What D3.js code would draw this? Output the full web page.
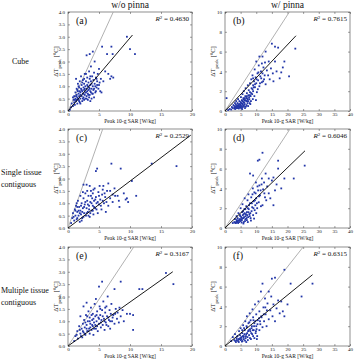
<!DOCTYPE html>
<html>
<head>
<meta charset="utf-8">
<title>SAR vs temperature rise</title>
<script src="https://d3js.org/d3.v7.min.js"></script>
<style>
  body { margin: 0; background: #fff; }
  text { font-family: "Liberation Serif", "DejaVu Serif", serif; fill: #111; }
</style>
</head>
<body>
<svg width="356" height="361"></svg>
<script>
// ---- data ----
const colTitles = ["w/o pinna", "w/ pinna"];
const rowLabels = [["Cube"], ["Single tissue", "contiguous"], ["Multiple tissue", "contiguous"]];
const panelTags = ["(a)", "(b)", "(c)", "(d)", "(e)", "(f)"];
const r2Values = ["0.4630", "0.7615", "0.2529", "0.6046", "0.3167", "0.6315"];
const xTicksL = [0, 5, 10, 15, 20];
const yTicksL = [0, 0.5, 1, 1.5, 2, 2.5, 3, 3.5, 4];
const xTicksR = [0, 5, 10, 15, 20, 25, 30, 35, 40];
const yTicksR = [0, 2, 4, 6, 8, 10];
// end points of the lines through the origin (gray = reference, black = fit)
const grayEnd = [[7.3, 4], [20.6, 10], [5.6, 4], [20.8, 10], [10.6, 4], [25, 10]];
const blackEnd = [[10.4, 3.07], [22.7, 7.6], [19.8, 3.75], [25.6, 7.8], [16.9, 3.0], [28, 7.2]];

const ptsA = [[0.3,0.05],[0.5,0.15],[0.6,0.3],[0.8,0.2],[0.9,0.45],[1.0,0.35],[1.0,0.6],[1.1,0.25],[1.2,0.5],[1.2,0.75],
  [1.3,0.4],[1.3,1.3],[1.4,0.65],[1.4,0.9],[1.5,0.3],[1.5,0.55],[1.6,0.8],[1.6,1.1],[1.7,0.45],[1.7,0.7],
  [1.8,0.6],[1.8,0.95],[1.9,0.35],[1.9,1.2],[2.0,0.5],[2.0,0.75],[2.1,0.9],[2.1,1.4],[2.2,0.6],[2.2,1.05],
  [2.3,0.4],[2.3,0.8],[2.4,0.7],[2.4,1.25],[2.5,0.55],[2.5,0.95],[2.6,0.85],[2.6,1.1],[2.7,0.65],[2.7,1.5],
  [2.8,0.5],[2.8,1.0],[2.9,0.75],[2.9,1.2],[3.0,0.6],[3.0,0.9],[3.0,2.25],[3.1,1.05],[3.1,1.35],[3.2,0.7],
  [3.2,0.45],[3.3,0.85],[3.3,1.15],[3.4,0.95],[3.4,1.6],[3.5,0.65],[3.5,1.3],[3.5,2.3],[3.6,0.8],[3.6,1.05],
  [3.7,1.8],[3.7,1.2],[3.8,0.9],[3.8,0.5],[3.9,1.4],[3.9,0.7],[4.0,1.0],[4.0,2.4],[4.1,1.25],[4.1,0.85],
  [4.2,1.55],[4.3,2.0],[4.3,1.1],[4.4,0.75],[4.5,1.35],[4.6,0.95],[4.7,1.2],[4.8,1.5],[5.0,1.7],[5.0,1.05],
  [5.2,0.8],[5.4,0.75],[5.3,1.3],[5.5,2.6],[5.7,1.2],[6.0,1.6],[6.3,2.3],[6.5,1.5],[6.8,1.3],[7.0,2.6],
  [7.0,1.4],[7.2,2.3],[7.3,1.35],[9.5,3.0],[10.0,2.5],[10.8,2.3],[3.6,0.4],[4.2,0.55],[2.0,0.3],[1.5,0.85],
  [1.1,0.45],[1.3,0.6],[1.6,0.5],[1.8,0.4],[2.0,0.65],[2.2,0.85],[2.4,0.5],[2.5,0.7],[2.6,0.45],[2.7,0.9],
  [2.8,0.75],[3.0,0.5],[3.1,0.8],[3.2,1.0],[3.3,0.65],[3.4,0.55],[3.5,0.9],[3.7,0.75],[3.8,1.1],[4.0,0.7],
  [4.2,0.9],[4.4,1.0],[4.5,0.8],[4.7,1.05],[4.9,0.9],[2.3,1.15],[1.9,0.8],[1.4,0.45],[2.9,1.5],[3.6,1.4],
  [4.6,1.3],[5.1,1.15],[0.8,0.55],[1.7,1.0],[2.6,1.3]];

const ptsB = [[0.5,1.3],[1,0.1],[1.5,0.2],[2,0.15],[2.2,0.4],[2.5,0.3],[2.7,0.6],[3,0.25],[3,0.5],[3.2,0.8],
  [3.4,0.4],[3.5,0.65],[3.6,1.0],[3.8,0.3],[4,0.55],[4,0.8],[4.2,1.2],[4.3,0.45],[4.5,0.7],[4.6,1.0],
  [4.8,0.35],[5,0.6],[5,0.9],[5.1,1.4],[5.3,0.5],[5.4,1.1],[5.5,0.75],[5.6,1.7],[5.8,0.55],[5.9,1.3],
  [6,0.9],[6,2.0],[6.2,1.1],[6.3,0.7],[6.5,1.5],[6.6,2.3],[6.8,1.0],[7,1.3],[7,1.8],[7.2,0.8],
  [7.3,2.6],[7.5,1.6],[7.6,2.1],[7.8,1.2],[8,1.9],[8,2.8],[8.2,1.5],[8.4,3.2],[8.5,2.3],[8.7,1.7],
  [8.8,3.6],[9,2.6],[9,2.0],[9.3,3.0],[9.5,4.2],[9.6,2.4],[9.8,3.4],[10,2.8],[10,5.0],[10.2,1.9],
  [10.4,3.8],[10.6,3.1],[10.8,4.6],[11,2.5],[11,5.5],[11.3,3.5],[11.5,4.0],[11.8,2.9],[12,5.5],[12,3.8],
  [12.3,4.4],[12.5,3.2],[12.8,4.9],[13,6.0],[13,2.7],[13.4,4.1],[13.8,3.6],[14,5.0],[14.3,3.2],[14.7,4.3],
  [15,6.8],[15.3,3.8],[15.5,3.0],[16,5.0],[16,6.5],[16.5,4.0],[17,6.4],[17.5,3.3],[18,3.9],[18.5,4.4],
  [19,5.0],[22.5,6.3],[20.5,3.5],[3.3,0.2],[4.1,0.3],[4.7,0.5],[5.2,0.3],[5.7,0.4],[6.1,0.5],[6.4,0.3],
  [6.9,0.6],[7.4,0.5],[7.9,0.8],[8.3,1.0],[8.9,1.2],[9.4,1.5],[9.9,1.1],[6.7,0.45],[4.4,0.25],[5.5,0.2],
  [7.1,1.0],[8.1,0.7],[3.1,0.35],[3.6,0.5],[3.9,0.45],[4.2,0.6],[4.5,0.45],[4.9,0.7],[5.3,0.8],[5.6,1.0],
  [6.0,1.2],[6.3,1.3],[6.6,1.1],[7.0,1.5],[7.3,1.2],[7.7,1.4],[8.0,1.6],[8.4,1.8],[8.8,2.2],[9.2,2.4],
  [9.6,2.7],[10.1,3.2],[10.5,2.2],[11.2,2.8],[11.6,3.3],[12.2,3.0],[5.0,0.4],[5.7,0.7],[6.2,0.85],[6.8,1.3],
  [7.5,1.0],[4.6,0.35],[3.7,0.3],[9.0,3.3],[10.7,3.9],[11.8,4.8],[12.7,3.6]];

const ptsC = [[0.5,0.2],[0.7,0.4],[0.8,0.6],[1.0,0.3],[1.1,0.75],[1.2,0.5],[1.3,0.9],[1.4,0.35],[1.5,0.65],[1.6,1.1],
  [1.7,0.5],[1.8,0.85],[1.9,0.25],[2.0,0.7],[2.0,1.3],[2.1,0.55],[2.2,1.0],[2.3,0.4],[2.4,0.8],[2.5,1.2],
  [2.5,1.75],[2.6,0.6],[2.7,0.95],[2.8,1.4],[2.9,0.5],[3.0,0.8],[3.0,1.75],[3.1,1.1],[3.2,0.65],[3.3,1.3],
  [3.4,0.9],[3.5,1.7],[3.5,0.45],[3.6,1.05],[3.7,1.5],[3.8,0.7],[3.9,1.2],[4.0,0.9],[4.0,1.4],[4.1,0.55],
  [4.2,1.1],[4.3,1.6],[4.4,0.8],[4.5,2.3],[4.5,1.25],[4.6,1.0],[4.7,2.4],[4.8,0.6],[4.9,1.45],[5.0,0.95],
  [5.1,1.7],[5.2,1.15],[5.4,0.75],[5.5,1.35],[5.6,1.55],[5.8,1.0],[6.0,1.25],[6.1,0.65],[6.3,1.5],[6.5,1.8],
  [6.5,0.9],[6.8,1.2],[7.0,2.6],[7.2,1.05],[7.5,1.6],[7.6,1.3],[8.0,1.3],[8.5,2.4],[8.3,0.85],[9.0,1.4],
  [9.3,1.15],[9.5,1.2],[9.7,1.05],[10.3,1.9],[11.0,1.3],[13.5,2.6],[17.5,2.5],[1.5,0.4],[2.2,0.3],[3.3,0.5],
  [0.9,0.45],[1.2,0.7],[1.5,0.85],[1.7,0.7],[1.9,0.6],[2.1,0.9],[2.3,0.65],[2.5,0.45],[2.6,0.85],[2.8,1.05],
  [3.0,0.6],[3.2,0.95],[3.4,0.75],[3.6,0.6],[3.8,1.0],[4.0,0.7],[4.2,0.85],[4.4,1.15],[4.6,0.75],[4.8,1.05],
  [5.0,1.3],[5.3,0.9],[5.6,1.1],[5.9,1.4],[6.2,1.05],[2.4,1.45],[3.1,1.5],[3.7,1.3],[4.1,1.55],[1.4,1.0],
  [5.7,1.7],[6.8,1.5],[7.2,1.35],[8.2,1.1]];

const ptsD = [[2.5,0.5],[3,0.6],[3.2,0.9],[3.5,0.5],[3.7,1.2],[4,0.7],[4,1.0],[4.3,1.5],[4.5,0.6],[4.6,0.9],
  [4.8,1.3],[5,0.7],[5,2.0],[5.2,1.1],[5.4,0.8],[5.5,1.6],[5.6,2.4],[5.8,1.0],[6,0.6],[6,1.4],
  [6.2,1.9],[6.3,3.0],[6.5,0.9],[6.6,1.2],[6.8,2.2],[7,1.6],[7,0.8],[7.2,2.8],[7.4,1.1],[7.5,3.4],
  [7.6,1.9],[7.8,1.4],[8,2.5],[8,5.5],[8.2,1.0],[8.4,3.1],[8.5,1.7],[8.7,2.1],[8.9,4.0],[9,5.3],
  [9,1.3],[9.2,2.7],[9.4,3.6],[9.5,1.8],[9.7,2.3],[9.9,4.6],[10,3.0],[10,1.5],[10.3,2.0],[10.5,6.8],
  [10.6,3.8],[10.8,2.6],[11,6.9],[11,4.3],[11.2,3.3],[11.5,2.2],[11.8,5.0],[12,7.6],[12,2.3],[12.2,3.9],
  [12.5,4.6],[12.8,3.1],[13,5.5],[13.2,2.8],[13.5,4.2],[14,5.0],[14,3.5],[14.5,3.0],[15,4.8],[15.5,2.3],
  [15.5,5.1],[16,3.8],[16.5,4.4],[17,6.8],[17,6.0],[18,4.0],[19,5.0],[22,5.0],[25.5,6.3],[4.2,0.5],
  [5.3,0.55],[6.4,0.7],[7.3,0.6],[8.3,0.75],[9.3,0.95],[5.9,0.45],[6.9,1.0],[7.9,1.2],[3.8,0.8],
  [3.3,0.5],[3.6,0.65],[3.9,0.6],[4.4,0.75],[4.7,0.8],[5.1,0.9],[5.5,0.95],[5.7,1.3],[6.1,1.1],[6.3,1.5],
  [6.7,1.4],[7.1,1.3],[7.5,1.6],[7.7,2.3],[8.1,1.5],[8.6,2.5],[9.1,2.0],[9.6,2.8],[10.2,2.5],[10.9,3.2],
  [11.4,3.8],[12.6,3.5],[6.5,1.9],[7.3,2.0],[8.8,3.4],[5.8,1.7],[4.9,1.2],[9.8,3.5],[10.4,4.2],[11.7,4.4]];

const ptsE = [[1.0,0.2],[1.2,0.4],[1.5,0.6],[1.6,0.3],[1.8,0.8],[2.0,0.5],[2.0,1.2],[2.2,0.7],[2.3,0.35],[2.4,0.9],
  [2.5,1.6],[2.5,0.55],[2.6,1.05],[2.7,0.75],[2.8,0.45],[2.9,1.25],[3.0,0.85],[3.0,1.75],[3.1,0.6],[3.2,1.0],
  [3.3,1.4],[3.4,0.7],[3.5,0.5],[3.5,1.15],[3.6,0.9],[3.7,1.55],[3.8,0.65],[3.9,1.05],[4.0,0.8],[4.0,1.3],
  [4.1,0.45],[4.2,0.95],[4.3,1.7],[4.4,1.2],[4.5,1.9],[4.5,0.7],[4.6,1.0],[4.7,1.4],[4.8,0.6],[4.9,1.15],
  [5.0,2.4],[5.0,0.9],[5.1,1.6],[5.2,1.25],[5.3,0.75],[5.4,1.05],[5.5,2.6],[5.5,1.45],[5.6,0.85],[5.7,1.8],
  [5.8,1.1],[5.9,0.65],[6.0,1.35],[6.1,0.95],[6.2,1.6],[6.3,1.2],[6.4,2.0],[6.5,0.8],[6.6,1.05],[6.7,1.45],
  [6.8,0.7],[6.9,1.3],[7.0,1.7],[7.1,1.0],[7.3,1.25],[7.5,2.3],[7.5,0.9],[7.7,1.5],[7.9,1.1],[8.0,1.35],
  [8.2,0.95],[8.5,2.6],[8.5,1.2],[8.8,1.45],[9.0,1.0],[9.5,1.3],[10.0,1.3],[10.5,1.25],[10.5,0.65],[11.5,2.3],
  [12.0,2.3],[15.8,2.95],[17.0,2.5],[1.4,0.45],[1.9,0.65],[2.1,0.4],[2.4,0.6],[2.7,0.5],[3.0,0.7],[3.3,0.6],
  [3.6,0.75],[3.9,0.85],[4.2,0.7],[4.4,0.85],[4.7,0.8],[5.0,1.1],[5.3,0.95],[5.6,1.2],[5.9,1.0],[6.2,0.85],
  [6.5,1.15],[6.8,1.0],[7.2,1.15],[3.1,1.2],[3.8,1.25],[4.1,1.1],[4.6,1.25],[5.2,1.5],[6.0,1.55],[3.5,1.0],
  [2.8,0.95],[7.6,1.3],[8.3,1.55]];

const ptsF = [[2,0.5],[2.5,0.9],[3,0.6],[3.2,1.2],[3.5,0.4],[3.7,0.8],[4,1.0],[4.2,0.5],[4.5,1.5],[4.6,0.7],
  [4.8,1.1],[5,0.6],[5,1.8],[5.2,0.9],[5.5,1.3],[5.6,0.5],[5.8,2.1],[6,1.0],[6,0.7],[6.3,1.6],
  [6.5,2.5],[6.6,0.8],[6.8,1.2],[7,1.9],[7,3.0],[7.2,0.9],[7.4,1.5],[7.5,2.3],[7.7,1.1],[7.9,3.3],
  [8,1.7],[8,0.8],[8.2,2.6],[8.4,1.3],[8.6,2.0],[8.8,3.7],[9,1.0],[9,2.9],[9.2,1.6],[9.4,2.3],
  [9.6,4.2],[9.8,1.3],[10,3.2],[10,2.0],[10.3,1.0],[10.5,2.6],[10.7,4.5],[11,1.6],[11,3.5],[11.3,2.2],
  [11.5,5.5],[11.7,2.9],[12,6.3],[12,1.9],[12.3,3.9],[12.5,2.5],[12.8,4.8],[13,3.2],[13.3,2.0],[13.6,4.3],
  [14,5.5],[14,2.7],[14.5,3.6],[14.8,5.0],[15,6.8],[15.2,3.0],[15.5,4.2],[16,6.9],[16,2.5],[16.5,3.8],
  [17,4.6],[17.5,3.3],[18,4.5],[18.5,3.5],[19,3.0],[19,7.7],[20,4.2],[21,6.3],[24.5,5.0],[28,6.3],
  [4.4,0.4],[5.4,0.45],[6.4,0.55],[7.3,0.6],[8.3,0.7],[9.4,0.8],[10.2,0.7],[6.8,0.4],[5.9,0.9],
  [3.3,0.5],[3.8,0.6],[4.3,0.7],[4.9,0.8],[5.3,0.7],[5.7,1.0],[6.2,1.2],[6.7,1.0],[7.1,1.3],[7.6,1.6],
  [8.1,1.5],[8.5,1.8],[8.9,1.6],[9.3,2.0],[9.7,2.5],[10.4,2.2],[10.9,2.8],[11.6,3.0],[12.4,3.2],[13.4,3.6],
  [6.9,2.0],[7.8,2.4],[9.1,2.6],[10.1,1.7],[11.2,2.5],[5.5,1.6],[6.1,1.8],[12.9,3.9],[8.7,1.2],[9.9,1.5]];

const panelPts = [ptsA, ptsB, ptsC, ptsD, ptsE, ptsF];

// ---- layout ----
const svg = d3.select("svg");
const colX = [68, 225], colW = [124, 125];
const rowY = [12, 129, 247], plotH = 99;
const dotColor = "#2236a8";

colTitles.forEach((t, c) => {
  svg.append("text").attr("x", colX[c] + colW[c] / 2).attr("y", 8)
    .attr("text-anchor", "middle").style("font-size", "9.5px").text(t);
});

rowLabels.forEach((lines, r) => {
  const cy = rowY[r] + plotH / 2 + 2;
  const single = lines.length == 1;
  lines.forEach((l, i) => {
    svg.append("text")
      .attr("x", single ? 12 : 1)
      .attr("y", cy - (lines.length - 1) * 6 + i * 12)
      .style("font-size", "8px").text(l);
  });
});

function drawPanel(i)
{
  const r = Math.floor(i / 2), c = i % 2;
  const x0 = colX[c], y0 = rowY[r], w = colW[c];
  const xMax = c == 0 ? 20 : 40, yMax = c == 0 ? 4 : 10;
  const xTicks = c == 0 ? xTicksL : xTicksR;
  const yTicks = c == 0 ? yTicksL : yTicksR;
  const x = d3.scaleLinear().domain([0, xMax]).range([x0, x0 + w]);
  const y = d3.scaleLinear().domain([0, yMax]).range([y0 + plotH, y0]);
  const g = svg.append("g");

  g.append("rect").attr("x", x0).attr("y", y0).attr("width", w).attr("height", plotH)
    .attr("fill", "none").attr("stroke", "#444").attr("stroke-width", 0.6);

  // inward ticks on all four sides
  const bx = d3.axisBottom(x).tickValues(xTicks).tickSizeInner(-2).tickSizeOuter(0).tickPadding(1.5);
  const tx = d3.axisTop(x).tickValues(xTicks).tickSizeInner(-2).tickSizeOuter(0).tickFormat("");
  const ly = d3.axisLeft(y).tickValues(yTicks).tickSizeInner(-2).tickSizeOuter(0).tickPadding(3);
  const ry = d3.axisRight(y).tickValues(yTicks).tickSizeInner(-2).tickSizeOuter(0).tickFormat("");
  [[bx, `translate(0,${y0 + plotH})`], [tx, `translate(0,${y0})`],
   [ly, `translate(${x0},0)`], [ry, `translate(${x0 + w},0)`]].forEach(([ax, tr]) => {
    const a = g.append("g").attr("transform", tr).call(ax);
    a.select(".domain").remove();
    a.selectAll("line").attr("stroke", "#444").attr("stroke-width", 0.5);
    a.selectAll("text").style("font-size", "5px")
      .style("font-family", "'Liberation Serif', serif").attr("fill", "#222");
  });

  // axis titles
  g.append("text").attr("x", x0 + w / 2).attr("y", y0 + plotH + 12)
    .attr("text-anchor", "middle").style("font-size", "5.5px").text("Peak 10-g SAR [W/kg]");
  const yl = g.append("text")
    .attr("transform", `translate(${x0 - 10},${y0 + plotH / 2}) rotate(-90)`)
    .attr("text-anchor", "middle").style("font-size", "6.5px");
  yl.append("tspan").text("\u0394T");
  yl.append("tspan").attr("baseline-shift", "sub").style("font-size", "5px").text("peak");
  yl.append("tspan").text(" [\u00b0C]");

  // reference and fit lines
  const line = d3.line().x(d => x(d[0])).y(d => y(d[1]));
  g.append("path").attr("d", line([[0, 0], grayEnd[i]]))
    .attr("stroke", "#a8a8a8").attr("stroke-width", 0.9).attr("fill", "none");

  g.selectAll("rect.pt").data(panelPts[i]).enter().append("rect").attr("class", "pt")
    .attr("x", d => x(d[0]) - 0.9).attr("y", d => y(d[1]) - 0.9)
    .attr("width", 1.8).attr("height", 1.8).attr("fill", dotColor);

  g.append("path").attr("d", line([[0, 0], blackEnd[i]]))
    .attr("stroke", "#000").attr("stroke-width", 0.9).attr("fill", "none");

  // labels inside
  g.append("text").attr("x", x0 + 8).attr("y", y0 + 12).style("font-size", "10px").text(panelTags[i]);
  const rt = g.append("text").attr("x", x0 + w - 3).attr("y", y0 + 9)
    .attr("text-anchor", "end").style("font-size", "7px");
  rt.append("tspan").style("font-style", "italic").text("R");
  rt.append("tspan").attr("baseline-shift", "super").style("font-size", "5px").text("2");
  rt.append("tspan").text(" = " + r2Values[i]);
}

for (let i = 0; i < 6; i++) { drawPanel(i); }
</script>
</body>
</html>
